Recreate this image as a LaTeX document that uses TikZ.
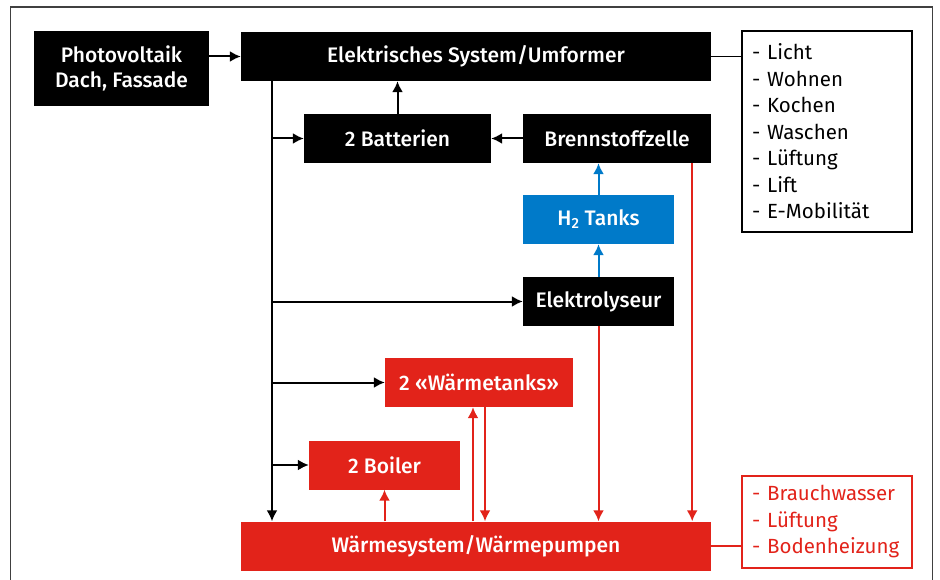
\documentclass[tikz,border=0pt]{standalone}
\usepackage{fontspec}
\setmainfont{Fira Sans}[BoldFont={Fira Sans Medium}]
\usetikzlibrary{arrows.meta}
\definecolor{hkred}{RGB}{226,35,26}
\definecolor{hkblue}{RGB}{0,122,201}

\begin{document}
\begin{tikzpicture}[x=1pt,y=-1pt,>={Latex[length=11pt,width=11pt]},
  box/.style={fill=black,text=white,inner sep=0pt,align=center,
    font=\fontsize{21}{24.5}\selectfont\bfseries},
  redbox/.style={box,fill=hkred},
  bluebox/.style={box,fill=hkblue},
  listbox/.style={draw,line width=1.4pt,align=left,text width=150pt,inner xsep=10pt,
    font=\fontsize{20.5}{26.5}\selectfont},
  flow/.style={->,line width=2pt}]
 \useasboundingbox (0,0) rectangle (940,580);
 \draw[black!75,line width=1.3pt] (10.5,580) -- (10.5,7) -- (932.5,7) -- (932.5,580);

 \node[box,minimum width=175pt,minimum height=75pt] (pv) at (121.5,68.5) {Photovoltaik\\Dach, Fassade};
 \node[box,minimum width=470pt,minimum height=49pt] (elsys) at (476,56.5) {Elektrisches System/Umformer};
 \node[listbox,minimum height=201pt] (elist) at (827,131.5)
   {- Licht\\- Wohnen\\- Kochen\\- Waschen\\- Lüftung\\- Lift\\- E-Mobilität};
 \node[box,minimum width=187pt,minimum height=49pt] (batt) at (397.5,138.5) {2 Batterien};
 \node[box,minimum width=188pt,minimum height=49pt] (bz) at (617,138.5) {Brennstoffzelle};
 \node[bluebox,minimum width=151pt,minimum height=49pt] (htank) at (598.5,219.5) {H\textsubscript{2} Tanks};
 \node[box,minimum width=151pt,minimum height=49pt] (elyse) at (598.5,301.5) {Elektrolyseur};
 \node[redbox,minimum width=188pt,minimum height=49pt] (wtank) at (479,382.5) {2 «Wärmetanks»};
 \node[redbox,minimum width=151pt,minimum height=49pt] (boiler) at (384.5,465) {2 Boiler};
 \node[redbox,minimum width=470pt,minimum height=49pt] (wsys) at (476,546) {Wärmesystem/Wärmepumpen};
 \node[listbox,draw=hkred,text=hkred,minimum height=92pt] (wlist) at (827,522)
   {- Brauchwasser\\- Lüftung\\- Bodenheizung};

 \coordinate (trunk) at (272,81);
 \draw[flow] (pv.east |- elsys) -- (elsys.west);
 \draw[flow] (trunk) -- (trunk |- wsys.north);
 \draw[flow] (trunk |- batt) -- (batt.west);
 \draw[flow] (trunk |- elyse) -- (elyse.west);
 \draw[flow] (trunk |- wtank) -- (wtank.west);
 \draw[flow] (trunk |- boiler) -- (boiler.west);
 \draw[flow] (batt.north) -- (batt.north |- elsys.south);
 \draw[flow] (bz.west) -- (batt.east);
 \draw[line width=1.3pt] (elsys.east) -- (elsys.east -| elist.west);

 \draw[flow,hkblue] (htank.north) -- (htank.north |- bz.south);
 \draw[flow,hkblue] (elyse.north) -- (htank.south);

 \draw[flow,hkred] (elyse.south) -- (elyse.south |- wsys.north);
 \draw[flow,hkred] ([xshift=-19pt]bz.south east) -- ([xshift=-19pt]bz.south east |- wsys.north);
 \draw[flow,hkred] (boiler.south |- wsys.north) -- (boiler.south);
 \draw[flow,hkred] ([xshift=-6pt]wtank.south |- wsys.north) -- ([xshift=-6pt]wtank.south);
 \draw[flow,hkred] ([xshift=6pt]wtank.south) -- ([xshift=6pt]wtank.south |- wsys.north);
 \draw[hkred,line width=1.3pt] (wsys.east) -- (wsys.east -| wlist.west);
\end{tikzpicture}
\end{document}
